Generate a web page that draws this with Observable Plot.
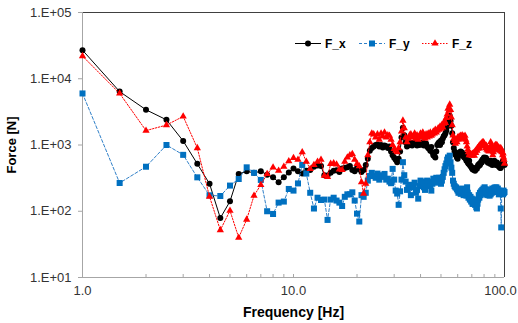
<!DOCTYPE html>
<html><head><meta charset="utf-8">
<script src="https://cdn.jsdelivr.net/npm/d3@7"></script>
<script src="https://cdn.jsdelivr.net/npm/@observablehq/plot@0.6"></script>
<style>
body{margin:0;background:#fff;}
#wrap{position:relative;width:518px;height:323px;}
#wrap svg{position:absolute;left:0;top:0;}
g[aria-label="x-axis label"] text, g[aria-label="y-axis label"] text{font-weight:bold;fill:#000;}
g[aria-label="x-axis label"] text{font-size:14px;}
</style></head><body><div id="wrap"></div>
<script>
const freq = [1,1.5,2,2.5,3,3.5,4,4.5,5,5.5,6,6.5,7,7.5,8,8.5,9,9.5,10,10.5,11,11.5,12,12.5,13,13.5,14,14.5,15,15.5,16,16.5,17,17.5,18,18.5,19,19.5,20,20.5,21,21.5,22,22.5,23,23.5,24,24.5,25,25.5,26,26.5,27,27.5,28,28.5,29,29.5,30,30.5,31,31.5,32,32.5,33,33.5,34,34.5,35,35.5,36,36.5,37,37.5,38,38.5,39,39.5,40,40.5,41,41.5,42,42.5,43,43.5,44,44.5,45,45.5,46,46.5,47,47.5,48,48.5,49,49.5,50,50.5,51,51.5,52,52.5,53,53.5,54,54.5,55,55.5,56,56.5,57,57.5,58,58.5,59,59.5,60,60.5,61,61.5,62,62.5,63,63.5,64,64.5,65,65.5,66,66.5,67,67.5,68,68.5,69,69.5,70,70.5,71,71.5,72,72.5,73,73.5,74,74.5,75,75.5,76,76.5,77,77.5,78,78.5,79,79.5,80,80.5,81,81.5,82,82.5,83,83.5,84,84.5,85,85.5,86,86.5,87,87.5,88,88.5,89,89.5,90,90.5,91,91.5,92,92.5,93,93.5,94,94.5,95,95.5,96,96.5,97,97.5,98,98.5,99,99.5,100];

const fx = [27000,6400,3400,2400,1150,520,260,79,141,366,
400,380,400,356,325,275,325,385,440,400,
370,410,420,470,490,480,350,345,380,410,
415,390,440,450,460,480,420,400,450,430,
390,420,500,620,820,900,950,1000,1020,950,
1000,920,980,960,900,950,800,700,640,600,
550,620,800,1300,1820,1400,1100,950,1050,1000,
1080,980,1050,1100,1050,980,1080,1000,1080,1020,
1100,980,1000,1050,950,900,880,820,930,780,
700,680,650,800,1000,1050,1100,1000,1170,1100,
1250,1350,1400,1500,1650,1900,2200,2500,2770,2300,
1950,1500,1100,900,800,720,700,650,620,700,
770,740,800,720,770,680,720,650,700,620,
580,600,545,520,580,500,480,470,455,430,
450,420,440,410,430,450,437,470,500,480,
520,500,530,560,545,600,580,620,650,620,
600,640,620,580,560,540,580,550,560,520,
580,540,520,500,540,510,560,580,550,520,
500,540,545,520,500,480,500,470,460,450,
455,480,500,520,560,580,540,520,500];

const fy = [6000,267,470,1000,710,325,174,170,244,307,
460,380,297,100,91,135,140,217,205,263,
500,370,190,110,160,148,150,74,150,160,
145,135,120,165,180,180,193,145,92,70,
175,165,190,290,340,380,340,320,370,300,
350,330,366,300,310,280,265,436,300,205,
185,125,200,300,550,350,280,210,230,250,
175,250,230,270,190,210,155,240,290,250,
280,230,210,260,290,250,280,240,205,260,
310,280,300,320,270,310,320,300,260,290,
330,380,430,480,525,600,650,620,690,550,
455,380,290,260,240,230,228,215,205,190,
210,200,183,195,220,190,175,200,180,210,
172,230,190,160,175,150,165,140,155,130,
129,140,150,125,135,115,110,130,150,175,
160,190,175,200,185,210,190,220,205,230,
200,215,180,200,175,190,210,185,172,195,
180,205,190,220,200,215,195,225,228,200,
215,230,210,195,220,200,180,205,190,195,
110,57,185,190,200,180,205,190,195];

const fz = [22000,6000,1650,2000,2700,900,166,52,102,40,
75,172,250,366,460,410,470,570,640,600,
780,560,436,500,560,600,345,330,520,530,
510,430,420,560,650,700,735,600,520,480,
275,185,260,700,1100,1500,1450,1300,1450,1200,
1500,1350,1550,1300,1400,1380,1200,1000,870,820,
780,900,1100,1600,2340,1800,1300,1100,1250,1400,
1450,1300,1350,1500,1250,1400,1200,1350,1500,1300,
1550,1400,1250,1450,1300,1500,1350,1550,1380,1450,
1600,1500,1700,1550,1650,1800,1700,1900,1770,2000,
1850,2100,2300,2150,2570,2900,3550,3300,4080,3400,
2600,2000,1400,1250,1150,1050,1200,1100,1300,1200,
1350,1250,1380,1300,1400,1250,1350,1300,1380,1200,
1100,950,850,780,700,750,700,720,690,740,
700,760,690,800,760,850,820,900,880,950,
900,1000,980,1050,980,1100,1000,1100,1050,1000,
950,900,980,850,900,820,870,800,850,900,
1100,1000,950,820,700,780,850,900,950,1000,
920,980,1000,950,900,850,920,880,820,850,
900,800,850,780,700,750,650,600,525];

const seriesNames = ["F_x","F_y","F_z"];
const xDomain = [1, 100];
const yDomain = [10, 100000];
const xTicksInner = [1, 10];
const xTicksEdge = [100];
const xMinorTicks = [2,3,4,5,6,7,8,9,10,20,30,40,50,60,70,80,90];
const yTicks = [10, 100, 1000, 10000, 100000];

const rows = (vals) => freq.map((f, i) => ({f, v: vals[i]})).filter(d => d.v != null);
const rx = rows(fx), ry = rows(fy), rz = rows(fz);

const chart = Plot.plot({
  width: 518, height: 323,
  marginLeft: 82, marginRight: 14, marginTop: 12, marginBottom: 46,
  style: {fontFamily: "'Liberation Sans', Arial, sans-serif", fontSize: "13px", color: "#333", background: "#fff"},
  x: {type: "log", domain: xDomain},
  y: {type: "log", domain: yDomain},
  marks: [
    Plot.ruleY([yDomain[1]], {stroke: "#404040", strokeWidth: 1}),
    Plot.ruleX([xDomain[1]], {stroke: "#404040", strokeWidth: 1}),
    Plot.ruleX([xDomain[0]], {stroke: "#a6a6a6", strokeWidth: 1}),
    Plot.ruleY([yDomain[0]], {stroke: "#a6a6a6", strokeWidth: 1}),
    Plot.tickX(xMinorTicks, {x: d => d, insetTop: 262, stroke: "#a6a6a6"}),
    Plot.axisY({ticks: yTicks, tickFormat: d => "1.E+" + String(Math.round(Math.log10(d))).padStart(2, "0"),
      tickSize: 4, tickPadding: 7, stroke: "#a6a6a6", fill: "#333",
      label: "Force [N]", labelAnchor: "center", labelOffset: 76, labelArrow: "none"}),
    Plot.axisX({ticks: xTicksInner, tickFormat: d => d.toFixed(1), tickSize: 0, tickPadding: 8, fill: "#333",
      label: "Frequency [Hz]", labelAnchor: "center", labelOffset: 39, labelArrow: "none"}),
    Plot.axisX({ticks: xTicksEdge, tickFormat: d => d.toFixed(1), tickSize: 0, tickPadding: 8, fill: "#333",
      dx: -4, label: null}),
    Plot.line(rx, {x: "f", y: "v", stroke: "#000", strokeWidth: 1}),
    Plot.dot(rx, {x: "f", y: "v", r: 3, fill: "#000", symbol: "circle"}),
    Plot.line(ry, {x: "f", y: "v", stroke: "#2f7fc8", strokeWidth: 1, strokeDasharray: "3,2"}),
    Plot.dot(ry, {x: "f", y: "v", r: 3.4, fill: "#0070c0", symbol: "square"}),
    Plot.line(rz, {x: "f", y: "v", stroke: "#ff0000", strokeWidth: 1, strokeDasharray: "1.5,1.5"}),
    Plot.dot(rz, {x: "f", y: "v", r: 2.7, fill: "#ff0000", symbol: "triangle"})
  ]
});
const wrap = document.getElementById("wrap");
wrap.appendChild(chart);

// legend overlay
const ns = "http://www.w3.org/2000/svg";
const leg = document.createElementNS(ns, "svg");
leg.setAttribute("width", 518); leg.setAttribute("height", 323);
leg.style.pointerEvents = "none";
const items = [
  {name: seriesNames[0], x: 295, color: "#000", line: "#000", dash: null, sym: "circle", r: 3},
  {name: seriesNames[1], x: 359, color: "#0070c0", line: "#2f7fc8", dash: "3,2", sym: "square", r: 3.4},
  {name: seriesNames[2], x: 422, color: "#ff0000", line: "#ff0000", dash: "1.5,1.5", sym: "triangle", r: 2.7}
];
const ly = 43.5;
let html = "";
for (const it of items) {
  const x1 = it.x, x2 = it.x + 26, cx = it.x + 13;
  html += `<line x1="${x1}" x2="${x2}" y1="${ly}" y2="${ly}" stroke="${it.line}" stroke-width="1" ${it.dash ? `stroke-dasharray="${it.dash}"` : ""}/>`;
  const sym = it.sym === "circle" ? d3.symbolCircle : it.sym === "square" ? d3.symbolSquare : d3.symbolTriangle;
  html += `<path transform="translate(${cx},${ly})" d="${d3.symbol(sym, Math.PI * it.r * it.r)()}" fill="${it.color}"/>`;
  html += `<text x="${x2 + 4}" y="${ly + 4.3}" font-family="'Liberation Sans', Arial, sans-serif" font-size="12" font-weight="bold" fill="#000">${it.name}</text>`;
}
leg.innerHTML = html;
wrap.appendChild(leg);
</script></body></html>
